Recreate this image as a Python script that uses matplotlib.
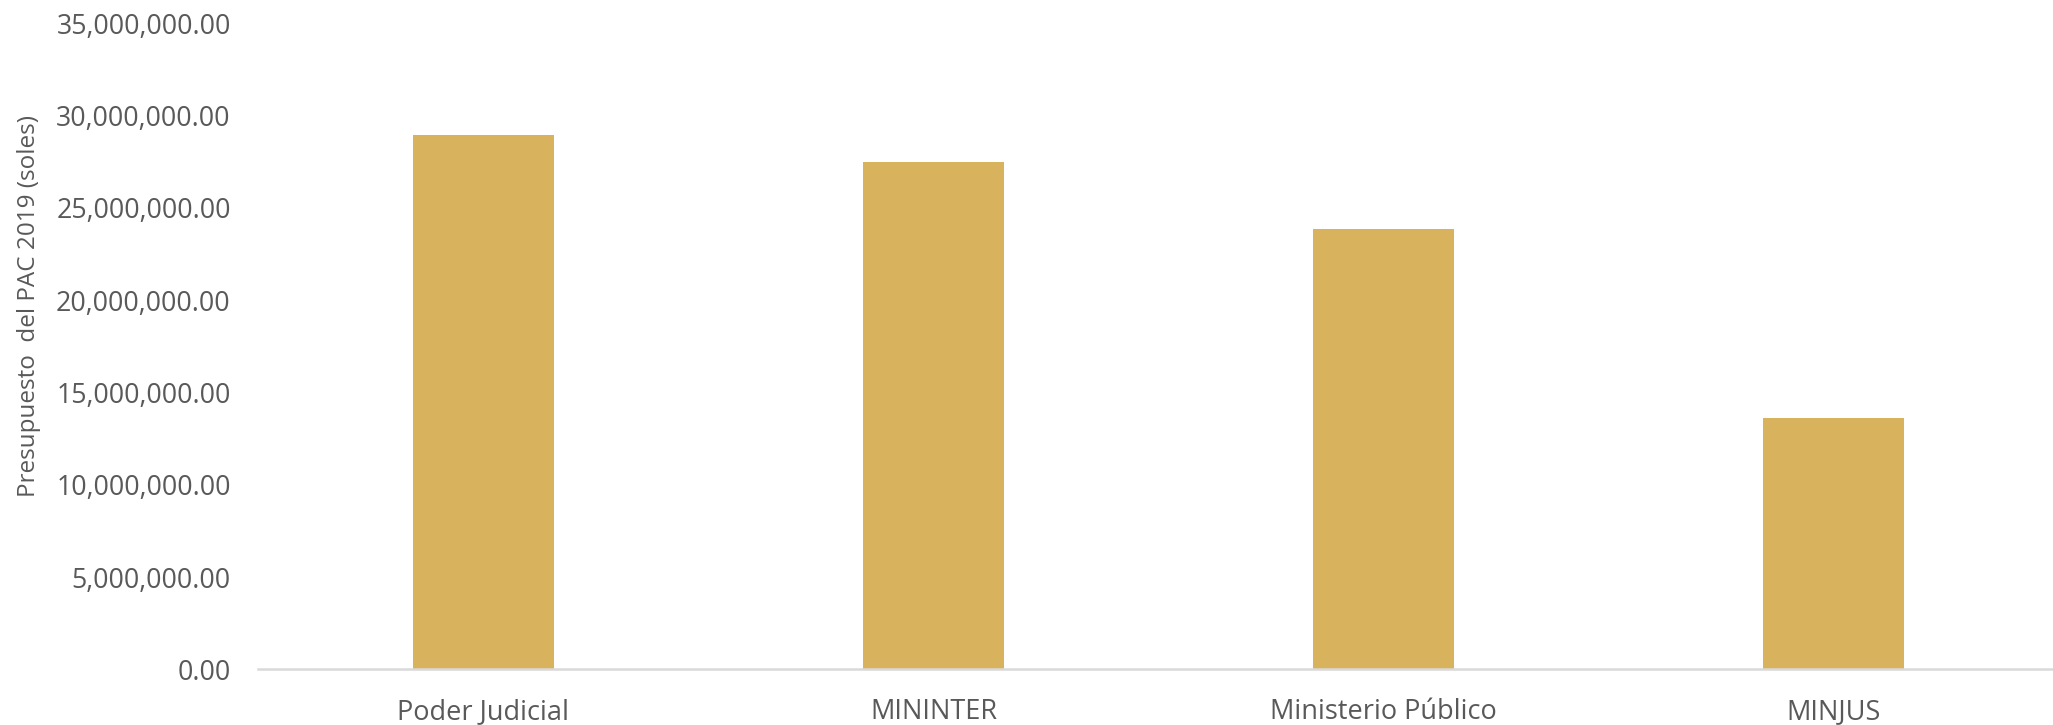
import matplotlib.pyplot as plt
from matplotlib.ticker import FuncFormatter

# data
entidades = ["Poder Judicial", "MININTER", "Ministerio Público", "MINJUS"]
presupuesto = [28960000, 27500000, 23850000, 13610000]
y_ticks = [0, 5000000, 10000000, 15000000, 20000000, 25000000, 30000000, 35000000]

plt.rcParams['font.family'] = ['Open Sans', 'DejaVu Sans']
gris = '#595959'

fig = plt.figure(figsize=(20.53, 7.25), dpi=100)
# the axis runs off the right edge like in the original
ax = fig.add_axes([0.1259, 0.0768, 0.8768, 0.8911])

x = range(len(entidades))
ax.bar(x, presupuesto, width=0.313, color='#D9B25D')

ax.set_xlim(-0.5, len(entidades) - 0.5)
ax.set_ylim(0, 35000000)
ax.set_yticks(y_ticks)
ax.yaxis.set_major_formatter(FuncFormatter(lambda v, p: f"{v:,.2f}"))
ax.set_xticks(list(x))
ax.set_xticklabels(entidades)

for s in ['top', 'right', 'left']:
    ax.spines[s].set_visible(False)
ax.spines['bottom'].set_color('#D9D9D9')
ax.spines['bottom'].set_linewidth(1.8)

ax.tick_params(axis='y', length=0, pad=20, labelsize=19.3, labelcolor=gris)
ax.tick_params(axis='x', length=0, pad=21, labelsize=19.5, labelcolor=gris)

ax.set_ylabel("Presupuesto  del PAC 2019 (soles)", fontsize=17.5, color=gris)
ax.yaxis.set_label_coords(-0.121, 0.562)

fig.savefig("out.png", dpi=100)
